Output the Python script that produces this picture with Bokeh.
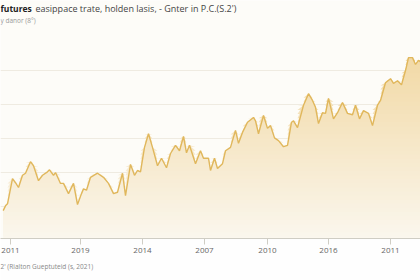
import numpy as np
from bokeh.plotting import figure
from bokeh.models import Range1d, FixedTicker, Label, Title
from bokeh.embed import file_html
from bokeh.resources import INLINE

# ---- data ----
t = [2.7, 5, 7, 12, 15, 18, 22, 25, 30, 33, 38, 42, 47, 49, 53, 55, 60, 63, 68, 73,
     77, 81, 83, 86, 90, 97, 103, 108, 113, 117, 122, 125, 130, 134, 137, 140, 144, 148,
     152, 157, 161, 166, 170, 175, 179, 183, 186, 189, 195, 200, 203, 208, 210, 214, 217,
     222, 225, 230, 235, 238, 242, 247, 253, 255, 258, 263, 267, 270, 274, 278, 283, 287,
     291, 293, 297, 303, 308, 312, 315, 318, 322, 325, 328, 333, 337, 342, 347, 352, 355,
     359, 363, 368, 372, 377, 380, 385, 390, 393, 397, 401, 405, 408, 412, 415, 418, 420]
vals = [44, 51, 54, 91, 85, 78, 96, 99, 116, 110, 88, 96, 101, 104, 96, 100, 84, 84, 69, 84,
        53, 69, 76, 74, 93, 99, 93, 84, 69, 71, 99, 66, 112, 96, 103, 101, 137, 157,
        137, 110, 121, 107, 128, 140, 132, 153, 129, 140, 113, 132, 121, 121, 103, 121, 106,
        113, 132, 137, 162, 143, 159, 174, 181, 176, 157, 184, 165, 169, 151, 147, 138, 140,
        174, 176, 166, 199, 216, 206, 196, 172, 188, 187, 209, 179, 188, 203, 187, 185, 199,
        179, 191, 187, 169, 199, 206, 232, 238, 231, 235, 229, 250, 269, 269, 259, 265, 263]
tick_pos = [10, 80, 142, 204, 267, 328, 390]
tick_labels = ["2011", "2019", "2014", "2007", "2010", "2016", "2011"]
grid_levels = [50, 100, 150, 200, 250]

title_bold = "futures"
title_rest = "easippace trate, holden lasis, - Gnter in P.C.(S.2')"
subtitle = "y danor (8°)"
footnote = "2' (Rialton Gueptuteid (s, 2021)"

p = figure(width=420, height=280, output_backend="svg", toolbar_location=None,
           x_range=Range1d(0, 420), y_range=Range1d(3, 353),
           y_axis_location=None, min_border_left=0, min_border_right=0,
           min_border_top=0, min_border_bottom=42)
p.background_fill_color = "#fdfcf8"
p.border_fill_color = "#fefefe"
p.outline_line_color = None

# gradient fill built from stacked layers
v = np.array(vals, dtype=float)
c_low = np.array([0xfb, 0xf7, 0xee])
c_high = np.array([0xf2, 0xd9, 0xa5])
for a in range(0, 270, 6):
    f = a / 270.0
    c = (c_low + (c_high - c_low) * f).astype(int)
    col = "#%02x%02x%02x" % tuple(c)
    p.varea(x=t, y1=a, y2=np.maximum(v, a), fill_color=col, fill_alpha=1.0)

p.line(t, vals, line_color="#e0b75c", line_width=1.4)

p.xgrid.visible = False
p.ygrid.ticker = FixedTicker(ticks=grid_levels)
p.ygrid.grid_line_color = "#efebe1"
p.ygrid.grid_line_width = 1

ax = p.xaxis[0]
ax.ticker = FixedTicker(ticks=tick_pos)
ax.major_label_overrides = {tp: lb for tp, lb in zip(tick_pos, tick_labels)}
ax.axis_line_color = "#cfcdc4"
ax.major_tick_line_color = "#cfcdc4"
ax.major_tick_out = 6
ax.major_tick_in = 0
ax.minor_tick_out = 0
ax.minor_tick_in = 0
ax.major_label_standoff = 3
ax.major_label_text_font = "Open Sans"
ax.major_label_text_font_size = "8px"
ax.major_label_text_color = "#666666"

p.add_layout(Label(x=35, y=230, x_units="screen", y_units="screen", text=title_rest,
                   text_font="Open Sans", text_font_size="9px",
                   text_color="#444444", text_baseline="middle"))
p.add_layout(Label(x=0, y=218, x_units="screen", y_units="screen", text=subtitle,
                   text_font="Open Sans", text_font_size="6.5px",
                   text_color="#999999", text_baseline="middle"))
p.add_layout(Label(x=0, y=230, x_units="screen", y_units="screen", text=title_bold,
                   text_font="Open Sans", text_font_style="bold", text_font_size="8.5px",
                   text_color="#222222", text_baseline="middle"))
p.add_layout(Title(text=footnote, align="left", text_font="Open Sans",
                   text_font_size="6.5px", text_font_style="normal",
                   text_color="#888888", offset=0, standoff=9), "below")

open("out.html", "w").write(file_html(p, INLINE))
